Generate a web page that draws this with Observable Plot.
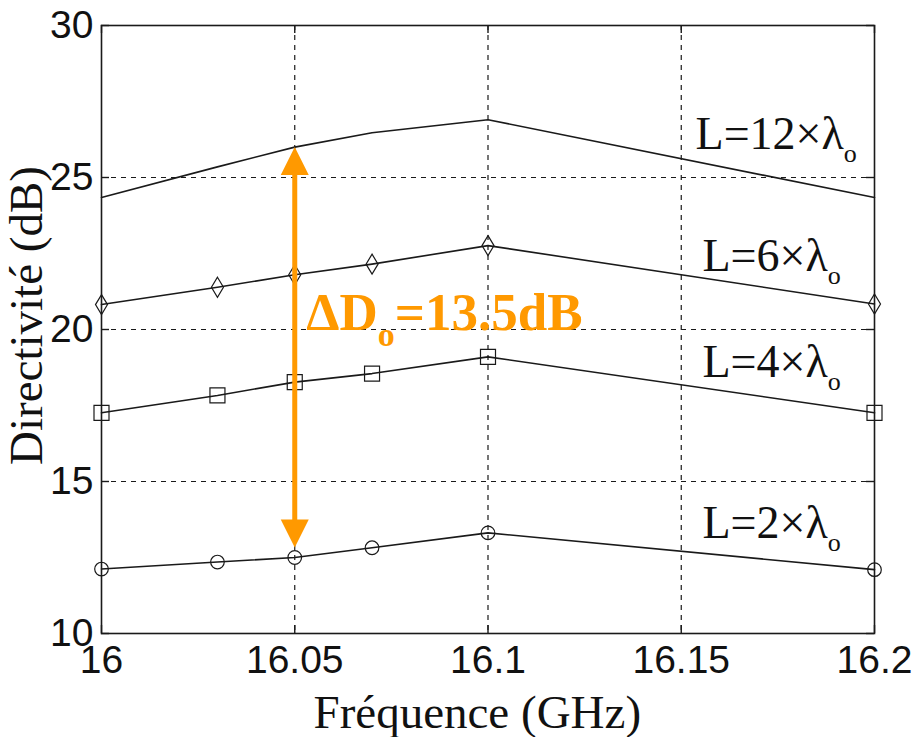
<!DOCTYPE html>
<html>
<head>
<meta charset="utf-8">
<script src="https://cdn.jsdelivr.net/npm/d3@7"></script>
<script src="https://cdn.jsdelivr.net/npm/@observablehq/plot@0.6"></script>
<style>
  html, body { margin: 0; padding: 0; background: #fff; }
  #chart { width: 916px; height: 737px; }
</style>
</head>
<body>
<div id="chart"></div>
<script>
// Frequency sweep (GHz) shared by all antenna lengths
const freq = [16, 16.03, 16.05, 16.07, 16.1, 16.2];

// Directivity (dB) for each antenna length
const dirL2  = [12.12, 12.35, 12.5, 12.82, 13.31, 12.1];
const dirL4  = [17.26, 17.83, 18.27, 18.55, 19.1, 17.26];
const dirL6  = [20.82, 21.39, 21.8, 22.15, 22.76, 20.84];
const dirL12 = [24.34, 25.35, 26.0, 26.47, 26.9, 24.34];

// Series names (subscript marked with "_")
const seriesNames = ["L=2×λ_o", "L=4×λ_o", "L=6×λ_o", "L=12×λ_o"];

// Axis ticks
const xTicks = [16, 16.05, 16.1, 16.15, 16.2];
const xTickLabels = ["16", "16.05", "16.1", "16.15", "16.2"];
const yTicks = [10, 15, 20, 25, 30];
const yTickLabels = ["10", "15", "20", "25", "30"];

// Directivity gain between the shortest and longest antenna at 16.05 GHz
const arrowFreq = 16.05;
const iArrow = freq.indexOf(arrowFreq);
const deltaLow = dirL2[iArrow];
const deltaHigh = dirL12[iArrow];
const deltaText = `ΔD_o=${(deltaHigh - deltaLow).toFixed(1)}dB`;

const seriesValues = [dirL2, dirL4, dirL6, dirL12];
const rows = seriesValues.flatMap((vals, s) =>
  vals.map((d, i) => ({ series: seriesNames[s], f: freq[i], d }))
);
const rowsOf = (s) => rows.filter(r => r.series === seriesNames[s]);

// Marker shapes
const squareSym = { draw(ctx) { ctx.moveTo(-7.5, -7.5); ctx.lineTo(7.5, -7.5); ctx.lineTo(7.5, 7.5); ctx.lineTo(-7.5, 7.5); ctx.closePath(); } };
const diamondSym = { draw(ctx) { ctx.moveTo(0, -10); ctx.lineTo(6, 0); ctx.lineTo(0, 10); ctx.lineTo(-6, 0); ctx.closePath(); } };
const headUp = { draw(ctx) { ctx.moveTo(0, 0); ctx.lineTo(14, 28); ctx.lineTo(-14, 28); ctx.closePath(); } };
const headDown = { draw(ctx) { ctx.moveTo(0, 0); ctx.lineTo(14, -28); ctx.lineTo(-14, -28); ctx.closePath(); } };

const W = 916, H = 737;
const mL = 101, mR = 42, mT = 25, mB = 104;
const plotW = W - mL - mR, plotH = H - mT - mB;
const ink = "#1a1a1a";
const orange = "#ff9900";
const tickLen = 8;
const serif = "'Liberation Serif', 'Times New Roman', serif";
const sans = "'Liberation Sans', Arial, sans-serif";

// Where each series name sits (data coordinates, text starts here)
const labelAnchors = [
  { text: seriesNames[0], x: 16.1555, y: 13.13 },
  { text: seriesNames[1], x: 16.1555, y: 18.45 },
  { text: seriesNames[2], x: 16.1555, y: 21.94 },
  { text: seriesNames[3], x: 16.1537, y: 25.95 }
];

const svg = Plot.plot({
  width: W,
  height: H,
  marginLeft: mL,
  marginRight: mR,
  marginTop: mT,
  marginBottom: mB,
  style: { background: "#fff", color: ink, fontFamily: sans },
  x: { domain: [16, 16.2] },
  y: { domain: [10, 30] },
  marks: [
    // dashed grid at interior ticks
    Plot.gridX(xTicks.slice(1, -1), { stroke: ink, strokeOpacity: 1, strokeWidth: 1.2, strokeDasharray: "5,5" }),
    Plot.gridY(yTicks.slice(1, -1), { stroke: ink, strokeOpacity: 1, strokeWidth: 1.2, strokeDasharray: "5,5" }),
    // inward ticks on all four sides
    Plot.tickX(xTicks, { x: d => d, insetTop: plotH - tickLen, stroke: ink, strokeWidth: 1.4 }),
    Plot.tickX(xTicks, { x: d => d, insetBottom: plotH - tickLen, stroke: ink, strokeWidth: 1.4 }),
    Plot.tickY(yTicks, { y: d => d, insetRight: plotW - tickLen, stroke: ink, strokeWidth: 1.4 }),
    Plot.tickY(yTicks, { y: d => d, insetLeft: plotW - tickLen, stroke: ink, strokeWidth: 1.4 }),
    Plot.frame({ stroke: ink, strokeWidth: 1.6 }),
    // tick labels
    Plot.axisX(xTicks, {
      tickSize: 0, tickPadding: 12, fontSize: 39, fontFamily: sans, label: null,
      tickFormat: d => xTickLabels[xTicks.indexOf(d)], fill: "#111"
    }),
    Plot.axisY(yTicks, {
      tickSize: 0, tickPadding: 8, fontSize: 39, fontFamily: sans, label: null,
      tickFormat: d => yTickLabels[yTicks.indexOf(d)], fill: "#111"
    }),
    // axis titles
    Plot.text(["Fréquence (GHz)"], {
      frameAnchor: "bottom-left", textAnchor: "start", lineAnchor: "bottom",
      dx: 212, dy: 94, fontSize: 47, fontFamily: serif, fill: "#111"
    }),
    Plot.text(["Directivité (dB)"], {
      frameAnchor: "left", textAnchor: "middle", lineAnchor: "bottom", rotate: -90,
      dx: -60, dy: -14, fontSize: 47, fontFamily: serif, fill: "#111"
    }),
    // series curves
    Plot.line(rows, { x: "f", y: "d", z: "series", stroke: ink, strokeWidth: 1.6 }),
    Plot.dot(rowsOf(0), { x: "f", y: "d", symbol: "circle", r: 6.8, stroke: ink, strokeWidth: 1.2, fill: "none" }),
    Plot.dot(rowsOf(1), { x: "f", y: "d", symbol: squareSym, stroke: ink, strokeWidth: 1.2, fill: "none" }),
    Plot.dot(rowsOf(2), { x: "f", y: "d", symbol: diamondSym, stroke: ink, strokeWidth: 1.2, fill: "none" }),
    // series names
    Plot.text(labelAnchors, {
      x: "x", y: "y", text: "text", textAnchor: "start", lineAnchor: "bottom",
      fontSize: 46, fontFamily: serif, fill: "#111"
    }),
    // double-headed arrow spanning the directivity gain
    Plot.ruleX([arrowFreq], { x: d => d, y1: deltaHigh, y2: deltaLow, insetTop: 24, insetBottom: 34, stroke: orange, strokeWidth: 5 }),
    Plot.dot([{ f: arrowFreq, d: deltaHigh }], { x: "f", y: "d", symbol: headUp, fill: orange, stroke: "none" }),
    Plot.dot([{ f: arrowFreq, d: deltaLow }], { x: "f", y: "d", symbol: headDown, dy: -10, fill: orange, stroke: "none" }),
    Plot.text([{ f: 16.053, d: 20.0, t: deltaText }], {
      x: "f", y: "d", text: "t", textAnchor: "start", lineAnchor: "bottom",
      fontSize: 53, fontWeight: "bold", fontFamily: serif, fill: orange
    })
  ]
});

// Turn "_x" into a lowered, smaller subscript
d3.select(svg).selectAll("text").each(function () {
  const t = this.textContent;
  if (!t.includes("_")) return;
  const m = t.match(/^(.*?)_(\w)(.*)$/);
  if (!m) return;
  const el = d3.select(this);
  const bold = t.startsWith("Δ");
  const size = bold ? 53 : 46;
  const subSize = bold ? 34 : 26;
  const shift = bold ? 16 : 13;
  el.text(null);
  el.append("tspan").text(m[1]);
  el.append("tspan").attr("font-size", subSize).attr("dy", shift).text(m[2]);
  if (m[3]) el.append("tspan").attr("font-size", size).attr("dy", -shift).text(m[3]);
});

document.getElementById("chart").appendChild(svg);
</script>
</body>
</html>
